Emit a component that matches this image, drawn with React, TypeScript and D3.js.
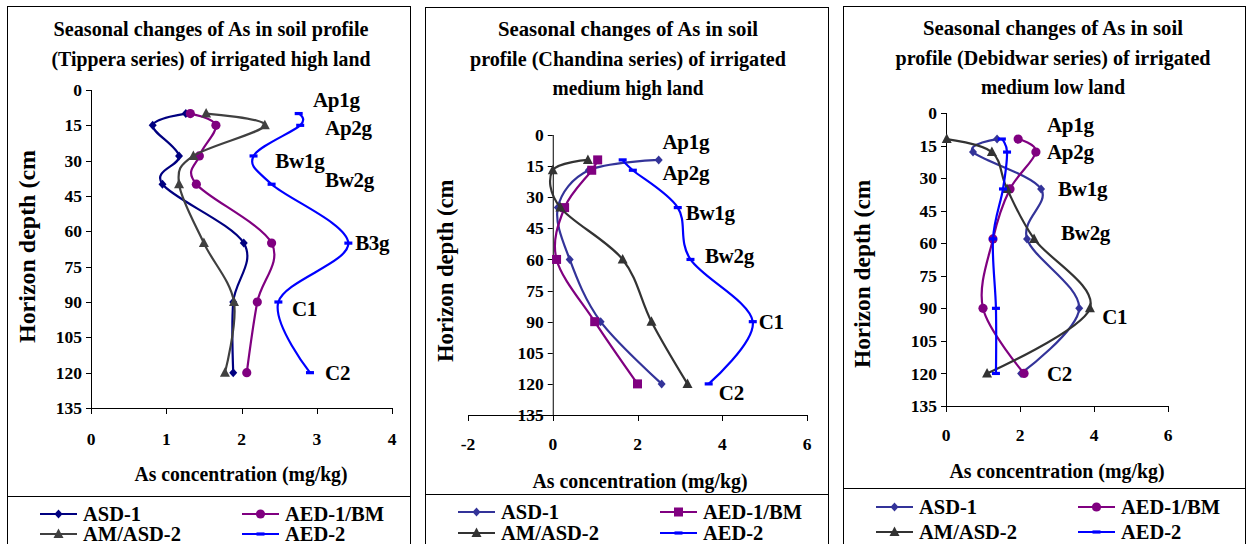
import React from "react";
import * as d3 from "d3";

const seriesNames = ["ASD-1", "AED-1/BM", "AM/ASD-2", "AED-2"];
const depthTicks = [0, 15, 30, 45, 60, 75, 90, 105, 120, 135];

// Tippera series - irrigated high land
const tipperaTicks = [0, 1, 2, 3, 4];
const tipperaDepths = [10, 15, 28, 40, 65, 90, 120];
const tipperaASD1 = [1.26, 0.82, 1.17, 0.95, 2.03, 1.89, 1.89];
const tipperaAED1 = [1.32, 1.66, 1.44, 1.4, 2.4, 2.21, 2.07];
const tipperaAMASD2 = [1.53, 2.31, 1.36, 1.17, 1.5, 1.9, 1.78];
const tipperaAED2 = [2.76, 2.78, 2.16, 2.4, 3.42, 2.49, 2.91];
const tipperaHorizons = ["Ap1g", "Ap2g", "Bw1g", "Bw2g", "B3g", "C1", "C2"];
const tipperaLabelX = [2.95, 3.11, 2.45, 3.11, 3.51, 2.67, 3.11];
const tipperaLabelDepth = [4, 16, 30, 38, 65, 93, 120];

// Chandina series - irrigated medium high land
const chandinaTicks = [-2, 0, 2, 4, 6];
const chandinaDepths = [12, 17, 35, 60, 90, 120];
const chandinaASD1 = [2.5, 0.85, 0.12, 0.4, 1.13, 2.57];
const chandinaAED1 = [1.06, 0.92, 0.28, 0.09, 0.99, 2.0];
const chandinaAMASD2 = [0.83, 0.0, 0.18, 1.65, 2.33, 3.18];
const chandinaAED2 = [1.65, 1.89, 2.95, 3.25, 4.72, 3.68];
const chandinaHorizons = ["Ap1g", "Ap2g", "Bw1g", "Bw2g", "C1", "C2"];
const chandinaLabelX = [2.59, 2.59, 3.14, 3.59, 4.86, 3.92];
const chandinaLabelDepth = [3, 18, 37.6, 58, 90, 124];

// Debidwar series - irrigated medium low land
const debidwarTicks = [0, 2, 4, 6];
const debidwarDepths = [12, 18, 35, 58, 90, 120];
const debidwarASD1 = [1.38, 0.73, 2.57, 2.19, 3.6, 2.03];
const debidwarAED1 = [1.95, 2.43, 1.73, 1.27, 1.0, 2.11];
const debidwarAMASD2 = [0.02, 1.24, 1.65, 2.38, 3.89, 1.11];
const debidwarAED2 = [1.51, 1.65, 1.54, 1.27, 1.35, 1.35];
const debidwarHorizons = ["Ap1g", "Ap2g", "Bw1g", "Bw2g", "C1", "C2"];
const debidwarLabelX = [2.73, 2.73, 3.03, 3.11, 4.22, 2.73];
const debidwarLabelDepth = [5.5, 18, 35, 55, 94, 120];

const FONT = "'Liberation Serif', 'Times New Roman', serif";

type Marker = "diamond" | "circle" | "square" | "triangle" | "dash";

function MarkerShape({ kind, x, y, color }: { kind: Marker; x: number; y: number; color: string }) {
  if (kind === "circle") return <circle cx={x} cy={y} r={4.6} fill={color} />;
  if (kind === "square") return <rect x={x - 4.5} y={y - 4.5} width={9} height={9} fill={color} />;
  if (kind === "dash") return <rect x={x - 4} y={y - 1.6} width={8} height={3.2} fill={color} />;
  if (kind === "triangle")
    return <path d={`M${x},${y - 5.5}L${x + 5},${y + 4}L${x - 5},${y + 4}Z`} fill={color} />;
  return <path d={`M${x},${y - 4.5}L${x + 4},${y}L${x},${y + 4.5}L${x - 4},${y}Z`} fill={color} />;
}

const panels = [
  {
    key: "tippera",
    frame: { left: 7, top: 6, right: 410, legendTop: 496 },
    titleX: 211,
    title: ["Seasonal changes of As in soil profile", "(Tippera series) of irrigated high land"],
    titleY: [36, 66],
    titleW: [315, 319],
    xDomain: [0, 4],
    xRange: [91, 392],
    xTicks: tipperaTicks,
    yRange: [90, 408],
    tickBaseline: 445,
    xTitle: { x: 241, y: 481, w: 213 },
    yTitle: { x: 27, bottom: 343, clipTop: 150, length: 201 },
    depths: tipperaDepths,
    values: [tipperaASD1, tipperaAED1, tipperaAMASD2, tipperaAED2],
    colors: ["#000080", "#800080", "#404040", "#0000ff"],
    markers: ["diamond", "circle", "triangle", "dash"] as Marker[],
    horizons: tipperaHorizons,
    labelX: tipperaLabelX,
    labelDepth: tipperaLabelDepth,
    legend: { cols: [40, 242], rows: [514, 534] },
  },
  {
    key: "chandina",
    frame: { left: 425, top: 7, right: 828, legendTop: 494 },
    titleX: 628,
    title: ["Seasonal changes of As in soil", "profile (Chandina series) of irrigated", "medium high land"],
    titleY: [36, 66, 95],
    titleW: [260, 316, 151],
    xDomain: [-2, 6],
    xRange: [468, 807],
    xTicks: chandinaTicks,
    yRange: [135, 415],
    tickBaseline: 450,
    xTitle: { x: 640, y: 488, w: 215 },
    yTitle: { x: 445, bottom: 362, clipTop: 180, length: 190 },
    depths: chandinaDepths,
    values: [chandinaASD1, chandinaAED1, chandinaAMASD2, chandinaAED2],
    colors: ["#333399", "#800080", "#333333", "#0000ff"],
    markers: ["diamond", "square", "triangle", "dash"] as Marker[],
    horizons: chandinaHorizons,
    labelX: chandinaLabelX,
    labelDepth: chandinaLabelDepth,
    legend: { cols: [458, 660], rows: [512, 533] },
  },
  {
    key: "debidwar",
    frame: { left: 843, top: 6, right: 1245, legendTop: 488 },
    titleX: 1053,
    title: ["Seasonal changes of As in soil", "profile (Debidwar series) of irrigated", "medium low land"],
    titleY: [35, 65, 94],
    titleW: [260, 315, 144],
    xDomain: [0, 6],
    xRange: [946, 1168],
    xTicks: debidwarTicks,
    yRange: [113, 406],
    tickBaseline: 441,
    xTitle: { x: 1057, y: 478, w: 215 },
    yTitle: { x: 862, bottom: 368, clipTop: 180, length: 196 },
    depths: debidwarDepths,
    values: [debidwarASD1, debidwarAED1, debidwarAMASD2, debidwarAED2],
    colors: ["#333399", "#800080", "#333333", "#0000ff"],
    markers: ["diamond", "circle", "triangle", "dash"] as Marker[],
    horizons: debidwarHorizons,
    labelX: debidwarLabelX,
    labelDepth: debidwarLabelDepth,
    legend: { cols: [876, 1078], rows: [507, 532] },
  },
];

function Panel({ p }: { p: (typeof panels)[number] }) {
  const x = d3.scaleLinear().domain(p.xDomain).range(p.xRange);
  const y = d3.scaleLinear().domain([0, 135]).range(p.yRange);
  const x0 = x(0);
  const line = d3
    .line<[number, number]>()
    .x((d) => x(d[0]))
    .y((d) => y(d[1]))
    .curve(d3.curveCardinal.tension(0));
  const { frame } = p;
  const clipId = `clip-${p.key}`;

  return (
    <g fontFamily={FONT} fontWeight="bold" fill="#000">
      <rect x={frame.left + 0.5} y={frame.top + 0.5} width={frame.right - frame.left} height={600} fill="#fff" stroke="#000" />
      <line x1={frame.left} x2={frame.right} y1={frame.legendTop + 0.5} y2={frame.legendTop + 0.5} stroke="#000" />

      {p.title.map((t, i) => (
        <text
          key={i}
          x={p.titleX}
          y={p.titleY[i]}
          textAnchor="middle"
          fontSize={21.5}
          textLength={p.titleW[i]}
          lengthAdjust="spacingAndGlyphs"
        >
          {t}
        </text>
      ))}

      {/* axes */}
      <line x1={x0 + 0.5} x2={x0 + 0.5} y1={y(0)} y2={y(135)} stroke="#000" />
      <line x1={p.xRange[0]} x2={p.xRange[1]} y1={y(135) + 0.5} y2={y(135) + 0.5} stroke="#000" />
      {depthTicks.map((t) => (
        <g key={t}>
          <line x1={x0 - 5} x2={x0} y1={Math.round(y(t)) + 0.5} y2={Math.round(y(t)) + 0.5} stroke="#000" />
          <text x={x0 - 9} y={y(t)} dy="0.35em" textAnchor="end" fontSize={17.5}>
            {t}
          </text>
        </g>
      ))}
      {p.xTicks.map((t) => (
        <g key={t}>
          <line x1={Math.round(x(t)) + 0.5} x2={Math.round(x(t)) + 0.5} y1={y(135)} y2={y(135) + 6} stroke="#000" />
          <text x={x(t)} y={p.tickBaseline} textAnchor="middle" fontSize={17.5}>
            {t}
          </text>
        </g>
      ))}

      <text
        x={p.xTitle.x}
        y={p.xTitle.y}
        textAnchor="middle"
        fontSize={21}
        textLength={p.xTitle.w}
        lengthAdjust="spacingAndGlyphs"
      >
        As concentration (mg/kg)
      </text>

      <clipPath id={clipId}>
        <rect x={frame.left} y={p.yTitle.clipTop} width={60} height={400} />
      </clipPath>
      <g clipPath={`url(#${clipId})`}>
        <text
          transform={`translate(${p.yTitle.x},${p.yTitle.bottom}) rotate(-90)`}
          dy="0.35em"
          fontSize={23}
          textLength={p.yTitle.length}
          lengthAdjust="spacingAndGlyphs"
        >
          Horizon depth (cm)
        </text>
      </g>

      {/* series */}
      {p.values.map((vals, si) => {
        const pts: [number, number][] = vals.map((v, i) => [v, p.depths[i]]);
        return (
          <g key={si}>
            <path d={line(pts) ?? ""} fill="none" stroke={p.colors[si]} strokeWidth={2.2} />
            {pts.map((d, i) => (
              <MarkerShape key={i} kind={p.markers[si]} x={x(d[0])} y={y(d[1])} color={p.colors[si]} />
            ))}
          </g>
        );
      })}

      {/* horizon labels */}
      {p.horizons.map((h, i) => (
        <text key={h} x={x(p.labelX[i])} y={y(p.labelDepth[i])} dy="0.35em" fontSize={21} letterSpacing={-0.3}>
          {h}
        </text>
      ))}

      {/* legend */}
      {seriesNames.map((name, si) => {
        const lx = p.legend.cols[si % 2];
        const ly = p.legend.rows[Math.floor(si / 2)];
        return (
          <g key={name}>
            <line x1={lx} x2={lx + 37} y1={ly} y2={ly} stroke={p.colors[si]} strokeWidth={2.2} />
            <MarkerShape kind={p.markers[si]} x={lx + 18.5} y={ly} color={p.colors[si]} />
            <text x={lx + 43} y={ly} dy="0.35em" fontSize={20.5}>
              {name}
            </text>
          </g>
        );
      })}
    </g>
  );
}

export default function App() {
  return (
    <svg
      width={1248}
      height={544}
      viewBox="0 0 1248 544"
      style={{ position: "absolute", left: 0, top: 0, background: "#fff" }}
    >
      <rect width={1248} height={544} fill="#fff" />
      {panels.map((p) => (
        <Panel key={p.key} p={p} />
      ))}
    </svg>
  );
}
